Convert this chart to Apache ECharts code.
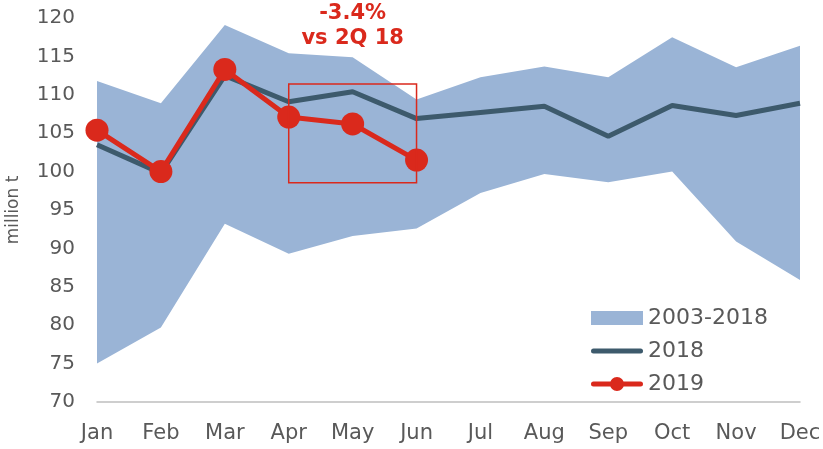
<!DOCTYPE html>
<html>
<head>
<meta charset="utf-8">
<script src="https://cdn.jsdelivr.net/npm/echarts@6/dist/echarts.min.js"></script>
<style>
  html, body { margin: 0; padding: 0; background: #fff; }
  #chart { width: 823px; height: 449px; }
</style>
</head>
<body>
<div id="chart"></div>
<script>
const months = ['Jan', 'Feb', 'Mar', 'Apr', 'May', 'Jun', 'Jul', 'Aug', 'Sep', 'Oct', 'Nov', 'Dec'];
// 2003-2018 range (min / max)
const rangeLow = [75.0, 79.7, 93.2, 89.3, 91.6, 92.6, 97.2, 99.7, 98.6, 100.0, 90.9, 85.9];
const rangeHigh = [111.8, 108.9, 119.1, 115.4, 114.9, 109.4, 112.3, 113.7, 112.3, 117.5, 113.6, 116.4];
const y2018 = [103.5, 99.8, 112.5, 109.1, 110.4, 106.9, 107.7, 108.5, 104.6, 108.6, 107.3, 108.9];
const y2019 = [105.4, 100.0, 113.3, 107.1, 106.2, 101.5];

// highlight box (category index / value) and note
const boxFrom = [2.61, 111.4];
const boxTo = [5.32, 98.55];
const noteAt = [3.96, 119.0];
const noteText = '-3.4%\nvs 2Q 18';

const FONT = 'DejaVu Sans';
const GREY = '#595959';
const BAND = '#9AB4D6';
const DARK = '#3D5A6C';
const RED = '#DA291C';

// legend icons: thick round-capped line, and line with a dot
const ICON_LINE = 'path://M2.5,0 L49.5,0 A2.5,2.5 0 0,1 49.5,5 L2.5,5 A2.5,2.5 0 0,1 2.5,0 Z';
const ICON_DOT = 'path://M2.5,4.5 L49.5,4.5 A2.5,2.5 0 0,1 49.5,9.5 L2.5,9.5 A2.5,2.5 0 0,1 2.5,4.5 Z M19,7 A7,7 0 1,1 33,7 A7,7 0 1,1 19,7 Z';

const chart = echarts.init(document.getElementById('chart'));

const option = {
  animation: false,
  textStyle: { fontFamily: FONT },
  grid: {
    left: 97,
    right: 23,
    top: 18,
    bottom: 47,
    containLabel: false,
    outerBoundsMode: 'none'
  },
  legend: {
    orient: 'vertical',
    left: 591,
    top: 307,
    padding: 0,
    itemWidth: 52,
    itemHeight: 14,
    itemGap: 11,
    textStyle: { fontFamily: FONT, fontSize: 22, color: GREY },
    data: [
      { name: '2003-2018', icon: 'rect' },
      { name: '2018', icon: ICON_LINE },
      { name: '2019', icon: ICON_DOT }
    ]
  },
  xAxis: {
    type: 'category',
    data: months,
    boundaryGap: false,
    axisLine: { lineStyle: { color: '#BFBFBF', width: 1.5 } },
    axisTick: { show: false },
    axisLabel: { fontFamily: FONT, fontSize: 21, color: GREY, margin: 21 },
    splitLine: { show: false }
  },
  yAxis: {
    type: 'value',
    min: 70,
    max: 120,
    interval: 5,
    name: 'million t',
    nameLocation: 'middle',
    nameGap: 75,
    nameTextStyle: { fontFamily: FONT, fontSize: 17, color: GREY },
    axisLine: { show: false },
    axisTick: { show: false },
    splitLine: { show: false },
    axisLabel: { fontFamily: FONT, fontSize: 20, color: GREY, margin: 22 }
  },
  series: [
    {
      name: 'low',
      type: 'line',
      stack: 'band',
      data: rangeLow,
      symbol: 'none',
      lineStyle: { width: 0, opacity: 0 },
      silent: true,
      z: 1
    },
    {
      name: '2003-2018',
      type: 'line',
      stack: 'band',
      data: rangeHigh.map((v, i) => +(v - rangeLow[i]).toFixed(2)),
      symbol: 'none',
      itemStyle: { color: BAND },
      lineStyle: { width: 0, opacity: 0 },
      areaStyle: { color: BAND, opacity: 1 },
      z: 1
    },
    {
      name: '2018',
      type: 'line',
      data: y2018,
      symbol: 'none',
      itemStyle: { color: DARK },
      lineStyle: { color: DARK, width: 5 },
      z: 3
    },
    {
      name: '2019',
      type: 'line',
      data: y2019,
      symbol: 'circle',
      symbolSize: 23,
      itemStyle: { color: RED },
      lineStyle: { color: RED, width: 5 },
      z: 4
    }
  ]
};

chart.setOption(option);

// annotation box + note placed from data coordinates
const p1 = chart.convertToPixel({ gridIndex: 0 }, boxFrom);
const p2 = chart.convertToPixel({ gridIndex: 0 }, boxTo);
const pn = chart.convertToPixel({ gridIndex: 0 }, noteAt);

chart.setOption({
  graphic: [
    {
      type: 'rect',
      z: 10,
      shape: { x: p1[0], y: p1[1], width: p2[0] - p1[0], height: p2[1] - p1[1] },
      style: { fill: 'none', stroke: RED, lineWidth: 1.5 }
    },
    {
      type: 'text',
      z: 10,
      x: pn[0],
      y: pn[1],
      style: {
        text: noteText,
        fill: RED,
        font: 'bold 21px "DejaVu Sans"',
        lineHeight: 25,
        align: 'center',
        verticalAlign: 'middle'
      }
    }
  ]
});
</script>
</body>
</html>
